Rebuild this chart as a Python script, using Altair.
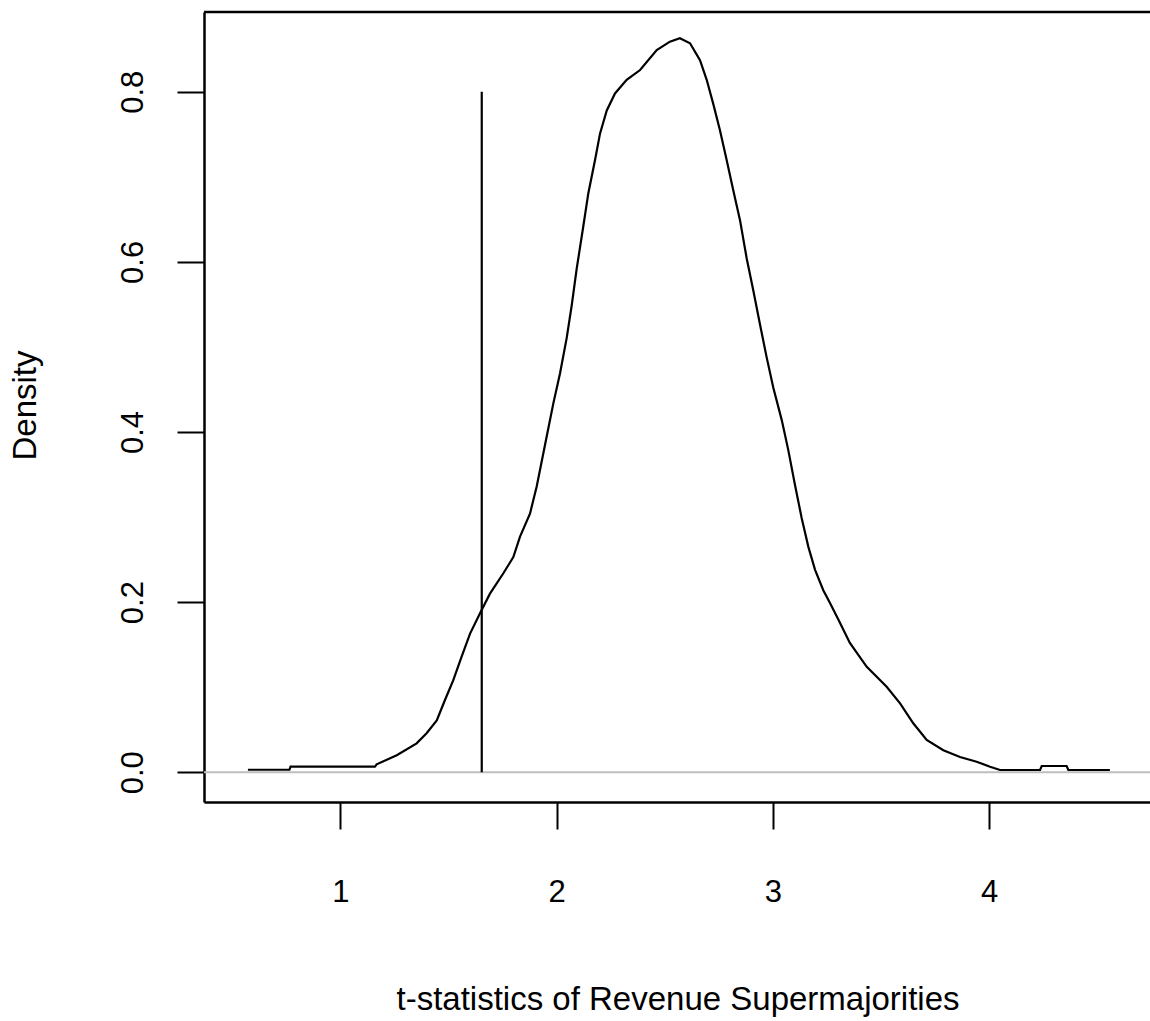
import altair as alt
import pandas as pd

# density curve points
xs = [0.573, 0.765, 0.770, 1.160, 1.168, 1.261, 1.353, 1.399, 1.446, 1.484,
      1.522, 1.561, 1.600, 1.646, 1.692, 1.754, 1.800, 1.831, 1.877, 1.908,
      1.954, 1.985, 2.016, 2.047, 2.070, 2.093, 2.123, 2.147, 2.178, 2.201,
      2.232, 2.270, 2.324, 2.386, 2.463, 2.524, 2.570, 2.617, 2.663, 2.694,
      2.724, 2.755, 2.786, 2.817, 2.848, 2.879, 2.909, 2.940, 2.971, 3.002,
      3.041, 3.071, 3.102, 3.133, 3.164, 3.195, 3.233, 3.264, 3.302, 3.356,
      3.434, 3.526, 3.588, 3.649, 3.711, 3.788, 3.865, 3.942, 4.004, 4.050,
      4.235, 4.243, 4.358, 4.366, 4.558]
ys = [0.0030, 0.0030, 0.0066, 0.0066, 0.0094, 0.020, 0.034, 0.046, 0.061, 0.085,
      0.108, 0.136, 0.163, 0.187, 0.210, 0.234, 0.253, 0.277, 0.304, 0.336,
      0.3945, 0.4337, 0.469, 0.511, 0.549, 0.592, 0.641, 0.681, 0.720, 0.751,
      0.778, 0.798, 0.814, 0.8255, 0.849, 0.8588, 0.8628, 0.857, 0.837, 0.814,
      0.786, 0.755, 0.720, 0.684, 0.649, 0.604, 0.567, 0.527, 0.488, 0.452,
      0.414, 0.379, 0.338, 0.299, 0.265, 0.238, 0.214, 0.199, 0.180, 0.152,
      0.124, 0.1006, 0.081, 0.0576, 0.038, 0.026, 0.018, 0.0125, 0.0066, 0.0027,
      0.0027, 0.0074, 0.0074, 0.0027, 0.0027]

crit_x = [1.654]
crit_y0 = [0.0]
crit_y1 = [0.8]
x_ticks = [1, 2, 3, 4]
y_ticks = [0.0, 0.2, 0.4, 0.6, 0.8]
x_domain = [0.3699, 4.7435]
y_domain = [-0.0349, 0.8937]

x_title = "t-statistics of Revenue Supermajorities"
y_title = "Density"

W, H = 946, 790
FONT = "Liberation Sans"
FS_LABEL = 31
FS_TITLE = 33

curve = pd.DataFrame({"x": xs, "y": ys})
crit = pd.DataFrame({"x": crit_x, "y0": crit_y0, "y1": crit_y1})
zero = pd.DataFrame({"y": [0.0]})

xscale = alt.Scale(domain=x_domain, nice=False, zero=False)
yscale = alt.Scale(domain=y_domain, nice=False, zero=False)

xaxis = alt.Axis(values=x_ticks, format="d", grid=False, tickSize=27, tickWidth=2,
                 tickColor="black", domainColor="black", domainWidth=2.5,
                 labelFont=FONT, labelFontSize=FS_LABEL, labelColor="black",
                 labelBaseline="alphabetic", labelPadding=72, labelFlush=False,
                 title=x_title, titleFont=FONT, titleFontSize=FS_TITLE,
                 titleFontWeight="normal",
                 titleColor="black", titleX=W / 2 + 0.5, titleY=207,
                 titleAlign="center", titleBaseline="alphabetic", labelOverlap=False)
yaxis = alt.Axis(values=y_ticks, format=".1f", grid=False, tickSize=27, tickWidth=2,
                 tickColor="black", domainColor="black", domainWidth=2.5,
                 labelFont=FONT, labelFontSize=FS_LABEL, labelColor="black",
                 labelAngle=270, labelAlign="center", labelBaseline="alphabetic",
                 labelPadding=35, labelFlush=False, labelOverlap=False,
                 title=y_title, titleFont=FONT, titleFontSize=FS_TITLE,
                 titleFontWeight="normal",
                 titleColor="black", titleAngle=270, titleX=-169, titleY=H / 2 - 2,
                 titleAlign="center", titleBaseline="alphabetic")

zero_line = alt.Chart(zero).mark_rule(color="#bebebe", strokeWidth=2).encode(
    y=alt.Y("y:Q", scale=yscale, axis=yaxis),
    x=alt.value(0), x2=alt.value(W),
)

line = alt.Chart(curve).mark_line(color="black", strokeWidth=2.2).encode(
    x=alt.X("x:Q", scale=xscale, axis=xaxis),
    y=alt.Y("y:Q", scale=yscale, axis=yaxis),
    order=alt.Order("x:Q"),
)

vline = alt.Chart(crit).mark_rule(color="black", strokeWidth=2.2).encode(
    x=alt.X("x:Q", scale=xscale, axis=xaxis),
    y=alt.Y("y0:Q", scale=yscale, axis=yaxis),
    y2="y1:Q",
)

top_border = alt.Chart(zero).mark_rule(color="black", strokeWidth=2.5).encode(
    y=alt.value(0), x=alt.value(0), x2=alt.value(W),
)

chart = alt.layer(zero_line, line, vline, top_border).properties(
    width=W, height=H,
    autosize=alt.AutoSizeParams(type="none"),
    padding={"left": 204, "top": 12, "right": 0, "bottom": 219},
    background="white",
).configure_view(stroke=None)

chart.save("out.html", embed_options={"renderer": "svg", "actions": False})
